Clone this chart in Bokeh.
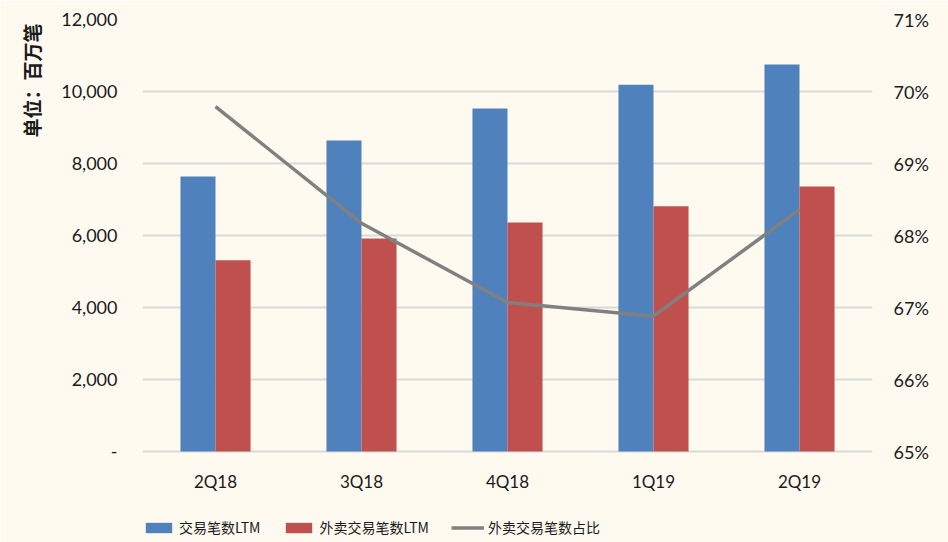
import math
from bokeh.plotting import figure
from bokeh.models import (ColumnDataSource, Range1d, LinearAxis, FactorRange, Legend,
                          LegendItem, FixedTicker, Title)
from bokeh.core.properties import value
from bokeh.transform import dodge
from bokeh.embed import file_html
from bokeh.resources import INLINE

# ---- data ----
quarters = ["2Q18", "3Q18", "4Q18", "1Q19", "2Q19"]
trades_ltm = [7640, 8640, 9530, 10190, 10750]          # 交易笔数LTM (百万笔)
delivery_ltm = [5310, 5920, 6360, 6810, 7360]          # 外卖交易笔数LTM (百万笔)
delivery_share = [69.79, 68.17, 67.07, 66.88, 68.36]   # 外卖交易笔数占比 (%)
left_ticks = [0, 2000, 4000, 6000, 8000, 10000, 12000]
left_tick_labels = ["-", "2,000", "4,000", "6,000", "8,000", "10,000", "12,000"]
right_ticks = [65, 66, 67, 68, 69, 70, 71]
right_tick_labels = ["65%", "66%", "67%", "68%", "69%", "70%", "71%"]
series_names = ["交易笔数LTM", "外卖交易笔数LTM", "外卖交易笔数占比"]
y_title = "单位：百万笔"

BG = "#FFFAF0"
BLUE = "#4F81BD"
RED = "#C0504D"
GREY = "#808080"
GRID = "#D9D9D9"
TXT = "#1A1A1A"
NUMFONT = "Lato"
CJKFONT = "Noto Sans CJK SC"

# ---- layout (pixels) ----
W, H = 948, 542
TOP, ZERO_Y = 19, 451            # pixel rows of the top tick and of the zero line
LEFT, RIGHT = 142, 76            # borders
CAT_LABEL_Y = 481                # pixel row of category labels

px_per_unit = (ZERO_Y - TOP) / (left_ticks[-1] - left_ticks[0])
y_start = left_ticks[0] - (H - ZERO_Y) / px_per_unit
px_per_pct = (ZERO_Y - TOP) / (right_ticks[-1] - right_ticks[0])
pct_start = right_ticks[0] - (H - ZERO_Y) / px_per_pct
label_y = left_ticks[0] - (CAT_LABEL_Y - ZERO_Y) / px_per_unit

src = ColumnDataSource(dict(q=quarters, trades=trades_ltm, delivery=delivery_ltm,
                            share=delivery_share))
lab_src = ColumnDataSource(dict(q=quarters, y=[label_y] * len(quarters)))

p = figure(width=W, height=H, output_backend="svg", toolbar_location=None,
           x_range=FactorRange(*quarters), y_range=Range1d(y_start, left_ticks[-1]),
           min_border_left=LEFT, min_border_right=RIGHT, min_border_top=TOP,
           min_border_bottom=0)
p.extra_y_ranges = {"pct": Range1d(pct_start, right_ticks[-1])}
p.background_fill_color = BG
p.border_fill_color = BG
p.outline_line_color = None

b1 = p.vbar(x=dodge("q", -0.12, range=p.x_range), top="trades", width=0.24,
            source=src, fill_color=BLUE, line_color=None)
b2 = p.vbar(x=dodge("q", 0.12, range=p.x_range), top="delivery", width=0.24,
            source=src, fill_color=RED, line_color=None)
ln = p.line(x="q", y="share", source=src, y_range_name="pct", line_color=GREY,
            line_width=3.5)

# category labels (x axis hidden so that the legend can sit inside the frame)
p.text(x="q", y="y", text="q", source=lab_src, text_align="center",
       text_baseline="middle", text_font=value(NUMFONT), text_font_size="17px",
       text_color=TXT)
p.xaxis.visible = False

# grid
p.xgrid.grid_line_color = None
p.ygrid.grid_line_color = GRID
p.ygrid.grid_line_width = 2
p.ygrid.ticker = FixedTicker(ticks=left_ticks)

# left axis
la = p.yaxis[0]
la.ticker = FixedTicker(ticks=left_ticks)
la.major_label_overrides = {t: s for t, s in zip(left_ticks, left_tick_labels)}
la.axis_line_color = None
la.major_tick_line_color = None
la.minor_tick_line_color = None
la.major_tick_out = 0
la.major_tick_in = 0
la.major_label_standoff = 25
la.major_label_text_font = NUMFONT
la.major_label_text_font_size = "18px"
la.major_label_text_color = TXT

# y title as a left-side title, aligned to top
yt = Title(text=y_title, align="right", standoff=27, offset=4, text_font=CJKFONT,
           text_font_size="19px", text_font_style="bold", text_color=TXT)
p.add_layout(yt, "left")

# right axis
ra = LinearAxis(y_range_name="pct", ticker=FixedTicker(ticks=right_ticks))
ra.major_label_overrides = {t: s for t, s in zip(right_ticks, right_tick_labels)}
ra.axis_line_color = None
ra.major_tick_line_color = None
ra.minor_tick_line_color = None
ra.major_tick_out = 0
ra.major_tick_in = 0
ra.major_label_standoff = 21
ra.major_label_text_font = NUMFONT
ra.major_label_text_font_size = "18px"
ra.major_label_text_color = TXT
p.add_layout(ra, "right")

# legend (inside the frame, under the category labels)
legend = Legend(items=[LegendItem(label=series_names[0], renderers=[b1]),
                       LegendItem(label=series_names[1], renderers=[b2]),
                       LegendItem(label=series_names[2], renderers=[ln])],
                orientation="horizontal", location=(0, 5))
legend.background_fill_alpha = 0
legend.border_line_color = None
legend.padding = 0
legend.margin = 0
legend.spacing = 22
legend.glyph_width = 33
legend.glyph_height = 13
legend.label_standoff = 4
legend.label_text_font = CJKFONT
legend.label_text_font_size = "14px"
legend.label_text_color = TXT
p.add_layout(legend)

open("out.html", "w").write(file_html(p, INLINE))
